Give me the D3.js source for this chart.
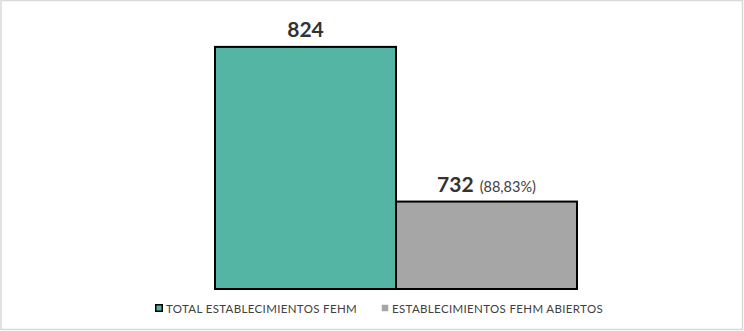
<!DOCTYPE html>
<html>
<head>
<meta charset="utf-8">
<script src="https://cdn.jsdelivr.net/npm/d3@7"></script>
<style>
	body { margin: 0; background: #fff; }
	svg { display: block; font-family: Lato, "Open Sans", sans-serif; }
</style>
</head>
<body>
<svg width="744" height="331"></svg>
<script>
const categories = ["TOTAL ESTABLECIMIENTOS FEHM", "ESTABLECIMIENTOS FEHM ABIERTOS"];
const values = [824, 732];
const percentLabels = ["", "(88,83%)"];
const colors = ["#55b5a5", "#a6a6a6"];

const svg = d3.select("svg");
const width = 744, height = 331;

// outer frame
svg.append("rect")
	.attr("x", 1).attr("y", 0.5)
	.attr("width", width - 2.5).attr("height", height - 2)
	.attr("fill", "#fff")
	.attr("stroke", "#d9d9d9")
	.attr("stroke-width", 1.5);

const xScale = d3.scaleBand()
	.domain(categories)
	.range([215, 577])
	.paddingInner(0);

const yScale = d3.scaleLinear()
	.domain([680, 840])
	.range([289, 20]);

const data = categories.map((c, i) => ({ cat: c, value: values[i], pct: percentLabels[i], color: colors[i] }));

svg.selectAll("rect.bar")
	.data(data)
	.enter()
	.append("rect")
	.attr("class", "bar")
	.attr("x", d => xScale(d.cat))
	.attr("y", d => yScale(d.value))
	.attr("width", xScale.bandwidth())
	.attr("height", d => yScale.range()[0] - yScale(d.value))
	.attr("fill", d => d.color)
	.attr("stroke", "#000")
	.attr("stroke-width", 2);

// value labels
const labels = svg.selectAll("text.val")
	.data(data)
	.enter()
	.append("text")
	.attr("class", "val")
	.attr("x", d => xScale(d.cat) + xScale.bandwidth() / 2)
	.attr("y", d => yScale(d.value) - 10)
	.attr("text-anchor", "middle")
	.attr("fill", "#333");

labels.append("tspan")
	.attr("font-size", 21)
	.attr("font-weight", "bold")
	.text(d => d.value);
labels.append("tspan")
	.attr("font-size", 14.5)
	.attr("fill", "#404040")
	.attr("dx", d => d.pct ? 6 : 0)
	.text(d => d.pct);

// legend
const legend = svg.append("g").attr("transform", "translate(155, 304)");
const legendX = [0, 226];

const items = legend.selectAll("g")
	.data(data)
	.enter()
	.append("g")
	.attr("transform", (d, i) => `translate(${legendX[i]}, 0)`);

items.append("rect")
	.attr("x", 0.75).attr("y", 0.75)
	.attr("width", 6.5).attr("height", 6.5)
	.attr("fill", d => d.color)
	.attr("stroke", (d, i) => i === 0 ? "#000" : "none")
	.attr("stroke-width", 1.5);

items.append("text")
	.attr("x", 11)
	.attr("y", 8.5)
	.attr("font-size", 11.5)
	.attr("letter-spacing", 0.35)
	.attr("fill", "#404040")
	.text(d => d.cat);
</script>
</body>
</html>
